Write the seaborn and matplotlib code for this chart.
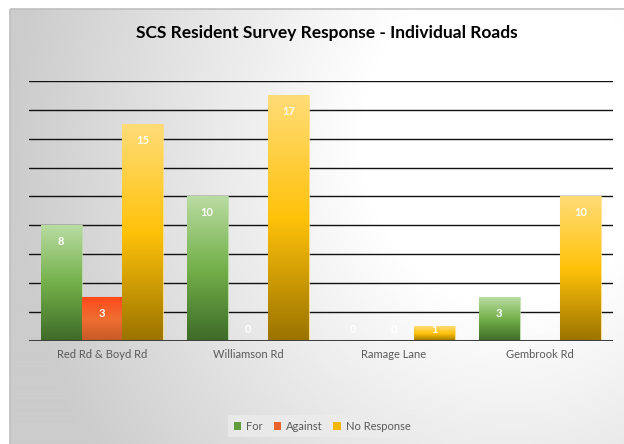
import numpy as np
import pandas as pd
import matplotlib
matplotlib.use("Agg")
import matplotlib.pyplot as plt
from matplotlib.colors import LinearSegmentedColormap, to_rgb
from matplotlib.patches import Rectangle, Patch
import seaborn as sns

# data
roads = ["Red Rd & Boyd Rd", "Williamson Rd", "Ramage Lane", "Gembrook Rd"]
responses = ["For", "Against", "No Response"]
votes_for = [8, 10, 0, 3]
votes_against = [3, 0, 0, 0]
votes_none = [15, 17, 1, 10]

df = pd.DataFrame({
    "road": roads * 3,
    "response": np.repeat(responses, len(roads)),
    "count": votes_for + votes_against + votes_none,
})

# gradient stops per series (top -> bottom)
grads = {
    "For": ["#b9dca2", "#74b04a", "#3d6b28"],
    "Against": ["#ff4a1c", "#ef6e30", "#c65a28"],
    "No Response": ["#ffdc78", "#ffc20a", "#9a7300"],
}
solid = {"For": "#5f9c3c", "Against": "#e8642a", "No Response": "#f2b800"}

sns.set_theme(style="white")
plt.rcParams["font.family"] = ["Lato", "DejaVu Sans"]

W, H = 624, 444
fig = plt.figure(figsize=(W / 100, H / 100), dpi=100)
fig.patch.set_facecolor("white")

# background panel with radial grey-to-white gradient
bg = fig.add_axes([0, 0, 1, 1], zorder=0)
bg.set_xlim(0, W)
bg.set_ylim(H, 0)
bg.axis("off")
yy, xx = np.mgrid[0:H, 0:W]
dist = np.hypot(xx - 510, (yy - 140) * 0.9)
t = np.clip((dist - 150) / 350, 0, 1)
shade = 1.0 - 0.20 * t
img = np.dstack([shade, shade, shade])
panel = Rectangle((10, 9), W, H, facecolor="none", edgecolor="#bfbfbf", lw=1.2)
bg.add_patch(panel)
im = bg.imshow(img, extent=(0, W, H, 0), aspect="auto", zorder=0)
im.set_clip_path(panel)

# main chart
ax = fig.add_axes([29 / W, 1 - 340.7 / H, (613 - 29) / W, (340.7 - 81) / H], zorder=2)
ax.patch.set_alpha(0)
sns.barplot(data=df, x="road", y="count", hue="response", hue_order=responses,
            palette=solid, width=0.84, legend=False, ax=ax, zorder=3)

for resp, cont in zip(responses, ax.containers):
    cmap = LinearSegmentedColormap.from_list(resp, grads[resp][::-1])
    grad = np.linspace(0, 1, 256).reshape(-1, 1)
    for bar in cont:
        x0, y0 = bar.get_x(), bar.get_y()
        w, h = bar.get_width(), bar.get_height()
        bar.set_facecolor("none")
        if h > 0:
            bar.set_edgecolor((*to_rgb(grads[resp][0]), 0.8))
            bar.set_linewidth(0.8)
            gi = ax.imshow(grad, cmap=cmap, extent=(x0, x0 + w, 0, h),
                           origin="lower", aspect="auto", zorder=3)
            clip = Rectangle((x0, y0), w, h, transform=ax.transData)
            gi.set_clip_path(clip)
        else:
            bar.set_edgecolor("none")
        ypos = max(h - 1.1, 0.75)
        ax.text(x0 + w / 2, ypos, f"{int(h)}", ha="center", va="center",
                color="white", fontsize=8, fontweight="bold", zorder=5)

ax.set_xlim(-0.5, 3.5)
ax.set_ylim(0, 18)
ax.set_yticks(range(0, 19, 2))
ax.set_yticklabels([])
ax.yaxis.grid(True, color="#111111", lw=1.0)
ax.set_axisbelow(True)
ax.axhline(0, color="#404040", lw=2.2, zorder=4)
for s in ax.spines.values():
    s.set_visible(False)
ax.tick_params(axis="both", length=0)
ax.tick_params(axis="x", pad=6, labelsize=8, labelcolor="#595959")
ax.set_xlabel("")
ax.set_ylabel("")

fig.text(327 / W, 1 - 33 / H, "SCS Resident Survey Response - Individual Roads",
         ha="center", va="center", fontsize=12.5, fontweight="bold", color="black")

handles = [Patch(facecolor=solid[r], edgecolor="none") for r in responses]
leg = fig.legend(handles, responses, loc="center", bbox_to_anchor=(322 / W, 1 - 426 / H),
                 ncol=3, frameon=True, fontsize=8, handlelength=0.7, handleheight=0.7,
                 handletextpad=0.4, columnspacing=1.0, borderpad=0.5)
leg.get_frame().set_facecolor("#ececec")
leg.get_frame().set_edgecolor("none")
for txt in leg.get_texts():
    txt.set_color("#595959")

fig.savefig("out.png", dpi=100)
